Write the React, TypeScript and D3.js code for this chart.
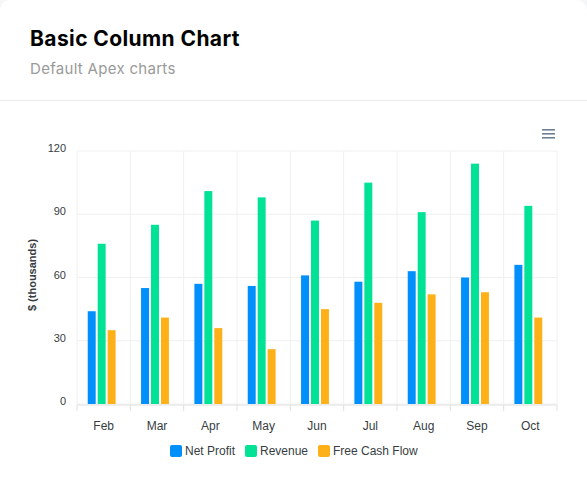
import * as d3 from "d3";

const categories = ["Feb", "Mar", "Apr", "May", "Jun", "Jul", "Aug", "Sep", "Oct"];
const netProfit = [44, 55, 57, 56, 61, 58, 63, 60, 66];
const revenue = [76, 85, 101, 98, 87, 105, 91, 114, 94];
const freeCashFlow = [35, 41, 36, 26, 45, 48, 52, 53, 41];
const seriesNames = ["Net Profit", "Revenue", "Free Cash Flow"];
const seriesColors = ["#008FFB", "#00E396", "#FEB019"];
const yTicks = [0, 30, 60, 90, 120];

const W = 587;
const H = 492;
const plot = { left: 77, right: 557, top: 151, bottom: 404 };
const labelFont = "Helvetica, Arial, 'Liberation Sans', sans-serif";

export default function App() {
	const series = [netProfit, revenue, freeCashFlow];

	const x = d3.scaleBand<string>().domain(categories).range([plot.left, plot.right]);
	const y = d3.scaleLinear().domain([0, 120]).range([plot.bottom, plot.top]);
	const groupW = x.bandwidth() * 0.56;
	const inner = d3
		.scaleBand<number>()
		.domain(d3.range(series.length))
		.range([0, groupW]);

	const bounds = categories.map((c) => x(c)!).concat([plot.right]);

	const legendX = [170, 245, 318];

	return (
		<svg
			width={W}
			height={H}
			style={{ position: "absolute", left: 0, top: 0, display: "block" }}
		>
			<rect x={0} y={0} width={W} height={H} fill="#f5f6f8" />
			<rect x={0} y={0} width={W} height={H + 20} rx={10} fill="#fff" />
			<line x1={0} x2={W} y1={100.5} y2={100.5} stroke="#ececec" />

			<text
				x={30}
				y={46}
				fontFamily="Inter, 'Noto Sans', sans-serif"
				fontWeight={700}
				fontSize={21}
				letterSpacing={0.4}
				fill="#000"
			>
				Basic Column Chart
			</text>
			<text
				x={30}
				y={74}
				fontFamily="Inter, 'Noto Sans', sans-serif"
				fontSize={15}
				letterSpacing={0.3}
				fill="#9a9a9a"
			>
				Default Apex charts
			</text>

			{/* menu icon */}
			{[0, 1, 2].map((i) => (
				<rect key={i} x={542} y={129 + i * 4} width={13} height={1.6} fill="#6e8192" />
			))}

			{/* grid */}
			{yTicks.map((t) => (
				<line
					key={t}
					x1={plot.left}
					x2={plot.right}
					y1={y(t)}
					y2={y(t)}
					stroke="#f0f0f0"
				/>
			))}
			{bounds.map((b, i) => (
				<line key={i} x1={b} x2={b} y1={plot.top} y2={plot.bottom} stroke="#f0f0f0" />
			))}

			{/* bars */}
			{categories.map((c, ci) => {
				const gx = x(c)! + (x.bandwidth() - groupW) / 2;
				return series.map((s, si) => (
					<rect
						key={`${c}-${si}`}
						x={gx + inner(si)! - 1}
						y={y(s[ci])}
						width={inner.bandwidth() - 2}
						height={y(0) - y(s[ci])}
						fill={seriesColors[si]}
					/>
				));
			})}

			{/* x axis */}
			<line x1={plot.left} x2={plot.right} y1={plot.bottom + 1} y2={plot.bottom + 1} stroke="#e0e0e0" />
			{bounds.map((b, i) => (
				<line key={i} x1={b} x2={b} y1={plot.bottom + 1} y2={plot.bottom + 7} stroke="#e0e0e0" />
			))}
			{categories.map((c) => (
				<text
					key={c}
					x={x(c)! + x.bandwidth() / 2}
					y={430}
					textAnchor="middle"
					fontFamily={labelFont}
					fontSize={12}
					fill="#373d3f"
				>
					{c}
				</text>
			))}

			{/* y axis */}
			{yTicks.map((t) => (
				<text
					key={t}
					x={66}
					y={y(t) + 1}
					textAnchor="end"
					fontFamily={labelFont}
					fontSize={11}
					fill="#373d3f"
				>
					{t}
				</text>
			))}
			<text
				transform={`translate(36,275) rotate(-90)`}
				textAnchor="middle"
				fontFamily={labelFont}
				fontSize={11}
				fontWeight={700}
				fill="#373d3f"
			>
				$ (thousands)
			</text>

			{/* legend */}
			{seriesNames.map((n, i) => (
				<g key={n} transform={`translate(${legendX[i]},445)`}>
					<rect width={12} height={12} rx={2} fill={seriesColors[i]} />
					<text x={15} y={10} fontFamily={labelFont} fontSize={12} fill="#373d3f">
						{n}
					</text>
				</g>
			))}
		</svg>
	);
}
